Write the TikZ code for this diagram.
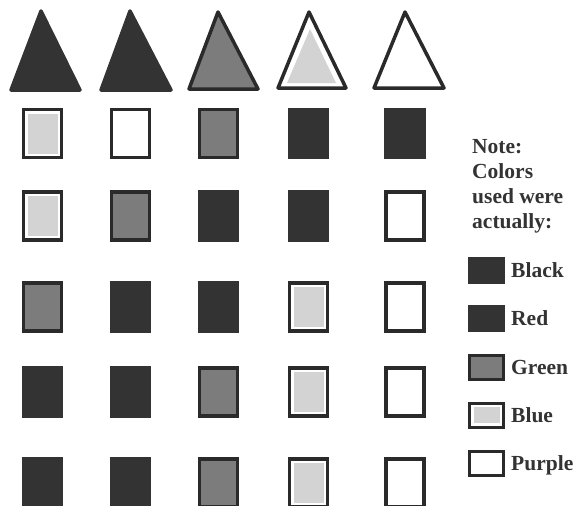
\documentclass[tikz,border=0pt]{standalone}
\usepackage{fontspec}
\setmainfont{Liberation Serif}
\definecolor{dk}{HTML}{333333}
\definecolor{fr}{HTML}{2A2A2A}
\definecolor{gr}{HTML}{7C7C7C}
\definecolor{lt}{HTML}{D3D3D3}
\begin{document}
\begin{tikzpicture}[x=1pt,y=-1pt,
  cell/.style={rectangle,minimum width=38pt,minimum height=48pt,inner sep=0pt,line width=3.5pt},
  leg/.style={rectangle,minimum width=34pt,minimum height=24pt,inner sep=0pt,line width=3pt},
  kblack/.style={fill=dk,draw=dk},
  kgreen/.style={fill=gr,draw=fr},
  kblue/.style={fill=white,draw=fr,path picture={\fill[lt] ([shift={(4pt,-4pt)}]path picture bounding box.north west) rectangle ([shift={(-4pt,4pt)}]path picture bounding box.south east);}},
  kpurple/.style={fill=white,draw=fr},
  tri/.style={line width=3.5pt,line join=round},
  lab/.style={font=\fontsize{21.5}{25}\selectfont\bfseries,text=dk,inner sep=0pt,anchor=base west}]
\useasboundingbox (0,0) rectangle (576,506);
% triangles
\filldraw[tri,fill=dk,draw=dk] (41,11) -- (11,90) -- (80,90) -- cycle;
\filldraw[tri,fill=dk,draw=dk] (130,11) -- (101,90) -- (171,90) -- cycle;
\filldraw[tri,fill=gr,draw=fr] (218,12) -- (189,89) -- (258,89) -- cycle;
\filldraw[tri,fill=white,draw=fr] (309,12) -- (278,88) -- (346,88) -- cycle;
\fill[lt] (310,29) -- (287,83) -- (336,83) -- cycle;
\filldraw[tri,fill=white,draw=fr] (405,12) -- (374,88) -- (444,88) -- cycle;
% grid
\foreach \r/\y/\a/\b/\c/\d/\e in {1/133.5/kblue/kpurple/kgreen/kblack/kblack,
                                  2/216/kblue/kgreen/kblack/kblack/kpurple,
                                  3/307/kgreen/kblack/kblack/kblue/kpurple,
                                  4/392/kblack/kblack/kgreen/kblue/kpurple,
                                  5/483/kblack/kblack/kgreen/kblue/kpurple}{
  \node[cell,\a] (c\r a) at (42.5,\y) {};
  \node[cell,\b] (c\r b) at (130.5,\y) {};
  \node[cell,\c] (c\r c) at (218.5,\y) {};
  \node[cell,\d] (c\r d) at (308.5,\y) {};
  \node[cell,\e] (c\r e) at (405,\y) {};
}
% note
\node[lab] (n1) at (472,153) {Note:};
\node[lab] (n2) at (472,178) {Colors};
\node[lab] (n3) at (472,203) {used were};
\node[lab] (n4) at (472,228) {actually:};
% legend
\node[leg,kblack] (l1) at (486.5,270.5) {};
\node[leg,kblack] (l2) at (486.5,318.5) {};
\node[leg,kgreen] (l3) at (486.5,367) {};
\node[leg,kblue] (l4) at (486.5,415) {};
\node[leg,kpurple] (l5) at (486.5,463) {};
\node[lab] (t1) at (511,277.5) {Black};
\node[lab] (t2) at (511,325.5) {Red};
\node[lab] (t3) at (511,374) {Green};
\node[lab] (t4) at (511,422) {Blue};
\node[lab] (t5) at (511,470) {Purple};
\end{tikzpicture}
\end{document}
